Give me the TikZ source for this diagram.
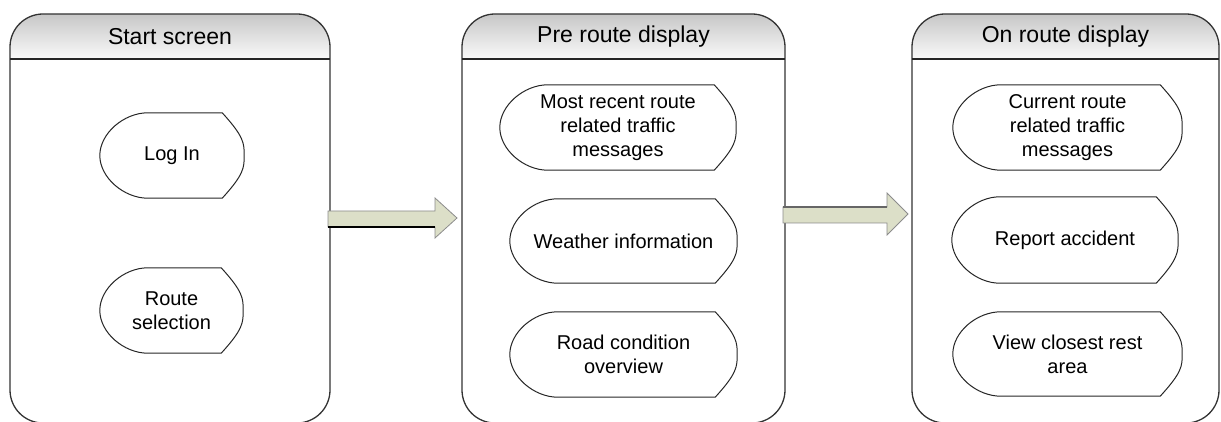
\documentclass[tikz,border=0pt]{standalone}
\usepackage{fontspec}
\setmainfont{Liberation Sans}
\usetikzlibrary{calc}

\definecolor{arrowfill}{HTML}{DCDFC8}

\tikzset{
  panelline/.style={draw=black!80, line width=1.3pt, rounded corners=33pt},
  headerline/.style={draw=black!85, line width=2pt},
  headertext/.style={font=\fontsize{23}{27}\selectfont, inner sep=0pt},
  itemtext/.style={font=\fontsize{20}{24}\selectfont, align=center, inner sep=0pt},
  itemline/.style={draw=black!85, line width=1pt},
  blockarrow/.style={fill=arrowfill, draw=black!45, line width=0.8pt, line join=miter},
}

% one screen: rounded frame, shaded title bar, title node
% #1 name, #2 left, #3 right, #4 title
\newcommand\screenpanel[4]{%
  \begin{scope}
    \clip[rounded corners=33pt] (#2,14) rectangle (#3,423);
    \shade[top color=black!22, bottom color=black!2] (#2,14) rectangle (#3,59);
  \end{scope}
  \draw[panelline] (#2,14) rectangle (#3,423);
  \draw[headerline] (#2,59) -- (#3,59);
  \node[headertext] (#1) at ({(#2+#3)/2},36.5) {#4};
}

% display-symbol outline drawn round a named item node
\newcommand\itemoutline[1]{%
  \draw[itemline]
    ($(#1.north west)+(48,0)$)
    -- ($(#1.north east)+(-22,0)$)
    .. controls ($(#1.north east)+(0,24)$) and ($(#1.east)+(0,-12)$) .. (#1.east)
    .. controls ($(#1.east)+(0,12)$) and ($(#1.south east)+(0,-24)$) .. ($(#1.south east)+(-22,0)$)
    -- ($(#1.south west)+(48,0)$)
    .. controls ($(#1.south west)+(24,0)$) and ($(#1.west)+(0,22)$) .. (#1.west)
    .. controls ($(#1.west)+(0,-22)$) and ($(#1.north west)+(24,0)$) .. cycle;
}

\begin{document}
\begin{tikzpicture}[x=1pt, y=-1pt]
  \useasboundingbox (0,0) rectangle (1221,422);
  \clip (0,0) rectangle (1221,422);

  % the three screens
  \screenpanel{start}{10}{330}{Start screen}
  \screenpanel{pre}{462}{785}{Pre route display}
  \screenpanel{on}{912}{1219}{On route display}

  % items of the start screen
  \node[itemtext, minimum width=144pt, minimum height=85pt] (login) at (172,155.5) {Log In};
  \node[itemtext, minimum width=143pt, minimum height=85pt] (routesel) at (171.5,310.5) {Route\\selection};

  % items of the pre route display
  \node[itemtext, minimum width=236pt, minimum height=85pt] (recent) at (618,127.5) {Most recent route\\related traffic\\messages};
  \node[itemtext, minimum width=227pt, minimum height=84pt] (weather) at (623.5,241) {Weather information};
  \node[itemtext, minimum width=227pt, minimum height=85pt] (roadcond) at (623.5,354.5) {Road condition\\overview};

  % items of the on route display
  \node[itemtext, minimum width=229pt, minimum height=85pt] (current) at (1067.5,127.5) {Current route\\related traffic\\messages};
  \node[itemtext, minimum width=226pt, minimum height=86pt] (report) at (1065,240) {Report accident};
  \node[itemtext, minimum width=229pt, minimum height=84pt] (restarea) at (1067.5,354) {View closest rest\\area};

  \foreach \n in {login,routesel,recent,weather,roadcond,current,report,restarea}
    {\itemoutline{\n}}

  % block arrows between the screens
  \draw[blockarrow] (328,211) -- (435,211) -- (435,198) -- (457,218)
    -- (435,238) -- (435,227) -- (328,227) -- cycle;
  \draw[black, line width=2pt] (328,227) -- (435,227);

  \draw[blockarrow] (783,207) -- (887,207) -- (887,193) -- (908,214)
    -- (887,235) -- (887,223) -- (783,223) -- cycle;
  \draw[black!60, line width=1.5pt] (783,207) -- (887,207);
\end{tikzpicture}
\end{document}
